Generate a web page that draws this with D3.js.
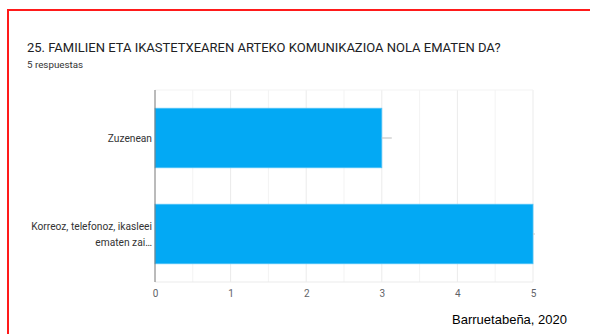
<!DOCTYPE html>
<html>
<head>
<meta charset="utf-8">
<script src="https://cdn.jsdelivr.net/npm/d3@7"></script>
<style>
  html, body { margin: 0; padding: 0; background: #fff; }
  svg { display: block; }
</style>
</head>
<body>
<svg id="chart" width="590" height="334"></svg>
<script>
// Survey question and responses
const title = "25. FAMILIEN ETA IKASTETXEAREN ARTEKO KOMUNIKAZIOA NOLA EMATEN DA?";
const subtitle = "5 respuestas";
const categories = ["Zuzenean", "Korreoz, telefonoz, ikasleei ematen zai…"];
const categoryLines = [["Zuzenean"], ["Korreoz, telefonoz, ikasleei", "ematen zai…"]];
const values = [3, 5];
const tickValues = [0, 1, 2, 3, 4, 5];
const source = "Barruetabeña, 2020";

const svg = d3.select("#chart");

// Card border
svg.append("rect")
  .attr("x", 8).attr("y", 10)
  .attr("width", 600).attr("height", 340)
  .attr("fill", "none")
  .attr("stroke", "#ff1a1a")
  .attr("stroke-width", 2);

svg.append("text")
  .attr("x", 27).attr("y", 52)
  .attr("font-family", "Roboto, 'Noto Sans', sans-serif")
  .attr("font-size", 13)
  .attr("fill", "#202124")
  .text(title);

svg.append("text")
  .attr("x", 27).attr("y", 68)
  .attr("font-family", "Roboto, 'Noto Sans', sans-serif")
  .attr("font-size", 9.8)
  .attr("fill", "#333")
  .text(subtitle);

const plot = { left: 155, right: 533, top: 90, bottom: 282 };

const x = d3.scaleLinear().domain([0, 5]).range([plot.left, plot.right]);
const y = d3.scaleBand()
  .domain(categories)
  .range([plot.top, plot.bottom])
  .paddingInner(0.38)
  .paddingOuter(0.19);

// Gridlines every half unit
const grid = d3.range(0.5, 5.01, 0.5);
svg.append("g").selectAll("line")
  .data(grid)
  .join("line")
  .attr("x1", d => x(d)).attr("x2", d => x(d))
  .attr("y1", plot.top).attr("y2", plot.bottom)
  .attr("stroke", d => Number.isInteger(d) ? "#ebebeb" : "#f3f3f3")
  .attr("stroke-width", 1);

// Top and bottom grid edges
svg.append("line")
  .attr("x1", plot.left).attr("x2", plot.right)
  .attr("y1", plot.top).attr("y2", plot.top)
  .attr("stroke", "#f3f3f3");
svg.append("line")
  .attr("x1", plot.left).attr("x2", plot.right)
  .attr("y1", plot.bottom).attr("y2", plot.bottom)
  .attr("stroke", "#ebebeb");

// Bars
svg.append("g").selectAll("rect")
  .data(values)
  .join("rect")
  .attr("x", x(0))
  .attr("y", (d, i) => y(categories[i]))
  .attr("width", d => x(d) - x(0))
  .attr("height", y.bandwidth())
  .attr("fill", "#03a9f4")
  .attr("stroke", "#4fc3f7")
  .attr("stroke-width", 0.8);

// Small end markers
svg.append("g").selectAll("line")
  .data(values)
  .join("line")
  .attr("x1", d => x(d))
  .attr("x2", d => x(d) + (d < 5 ? 10 : 2))
  .attr("y1", (d, i) => y(categories[i]) + y.bandwidth() / 2)
  .attr("y2", (d, i) => y(categories[i]) + y.bandwidth() / 2)
  .attr("stroke", "#c8c8c8")
  .attr("stroke-width", 1.2);

// Zero axis
svg.append("line")
  .attr("x1", x(0)).attr("x2", x(0))
  .attr("y1", plot.top).attr("y2", plot.bottom)
  .attr("stroke", "#777")
  .attr("stroke-width", 1);

// X axis tick labels
const xAxis = svg.append("g")
  .attr("transform", `translate(0,${plot.bottom})`)
  .call(d3.axisBottom(x).tickValues(tickValues).tickSize(0).tickPadding(8).tickFormat(d3.format("d")));
xAxis.select(".domain").remove();
xAxis.selectAll("text")
  .attr("font-family", "Roboto, 'Noto Sans', sans-serif")
  .attr("font-size", 10)
  .attr("fill", "#5f6368");

// Category labels
categories.forEach((c, i) => {
  const lines = categoryLines[i];
  const cy = y(c) + y.bandwidth() / 2;
  const lh = 16;
  const t = svg.append("text")
    .attr("text-anchor", "end")
    .attr("font-family", "Roboto, 'Noto Sans', sans-serif")
    .attr("font-size", 10.2)
    .attr("fill", "#333");
  lines.forEach((ln, k) => {
    t.append("tspan")
      .attr("x", plot.left - 3)
      .attr("y", cy + 3.5 + (k - (lines.length - 1) / 2) * lh)
      .text(ln);
  });
});

// Source note
svg.append("text")
  .attr("x", 567).attr("y", 324)
  .attr("text-anchor", "end")
  .attr("font-family", "Arial, 'Liberation Sans', sans-serif")
  .attr("font-size", 13)
  .attr("fill", "#000")
  .text(source);
</script>
</body>
</html>
